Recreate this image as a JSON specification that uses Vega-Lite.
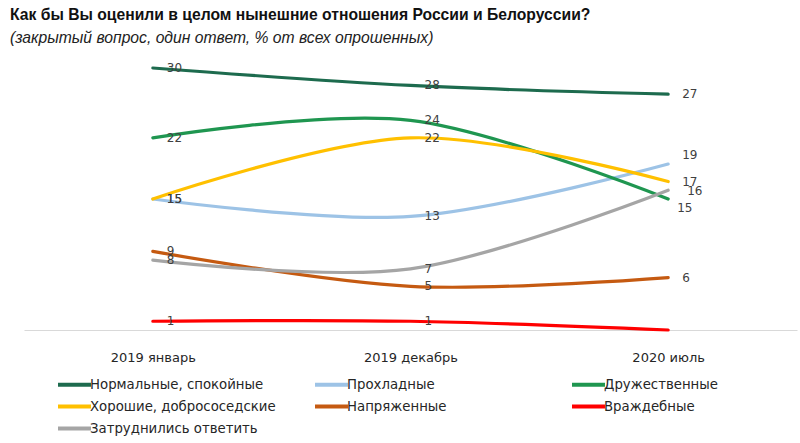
{
  "$schema": "https://vega.github.io/schema/vega-lite/v6.json",
  "autosize": {"type": "none"},
  "width": 773,
  "height": 262,
  "padding": {"left": 24, "top": 68, "right": 3, "bottom": 113},
  "background": "white",
  "title": {
    "text": "Как бы Вы оценили в целом нынешние отношения России и Белоруссии?",
    "subtitle": "(закрытый вопрос, один ответ, % от всех опрошенных)",
    "anchor": "start",
    "frame": "group",
    "dx": -14,
    "offset": 15,
    "font": "Liberation Sans",
    "fontSize": 15.7,
    "fontWeight": "bold",
    "color": "#111111",
    "subtitleFont": "Liberation Sans",
    "subtitleFontSize": 15.7,
    "subtitleFontStyle": "italic",
    "subtitleColor": "#222222",
    "subtitlePadding": 7
  },
  "data": {
    "values": [
      {"period": "2019 январь", "category": "Нормальные, спокойные", "value": 30},
      {"period": "2019 декабрь", "category": "Нормальные, спокойные", "value": 28},
      {"period": "2020 июль", "category": "Нормальные, спокойные", "value": 27},
      {"period": "2019 январь", "category": "Прохладные", "value": 15},
      {"period": "2019 декабрь", "category": "Прохладные", "value": 13},
      {"period": "2020 июль", "category": "Прохладные", "value": 19},
      {"period": "2019 январь", "category": "Дружественные", "value": 22},
      {"period": "2019 декабрь", "category": "Дружественные", "value": 24},
      {"period": "2020 июль", "category": "Дружественные", "value": 15},
      {"period": "2019 январь", "category": "Хорошие, добрососедские", "value": 15},
      {"period": "2019 декабрь", "category": "Хорошие, добрососедские", "value": 22},
      {"period": "2020 июль", "category": "Хорошие, добрососедские", "value": 17},
      {"period": "2019 январь", "category": "Напряженные", "value": 9},
      {"period": "2019 декабрь", "category": "Напряженные", "value": 5},
      {"period": "2020 июль", "category": "Напряженные", "value": 6},
      {"period": "2019 январь", "category": "Враждебные", "value": 1},
      {"period": "2019 декабрь", "category": "Враждебные", "value": 1},
      {"period": "2020 июль", "category": "Враждебные", "value": 0},
      {"period": "2019 январь", "category": "Затруднились ответить", "value": 8},
      {"period": "2019 декабрь", "category": "Затруднились ответить", "value": 7},
      {"period": "2020 июль", "category": "Затруднились ответить", "value": 16}
    ]
  },
  "encoding": {
    "x": {
      "field": "period",
      "type": "ordinal",
      "sort": ["2019 январь", "2019 декабрь", "2020 июль"],
      "scale": {"type": "point", "padding": 0.5},
      "axis": {
        "title": null,
        "labelAngle": 0,
        "labelFont": "DejaVu Sans",
        "labelFontSize": 13,
        "labelColor": "#262626",
        "labelPadding": 21,
        "ticks": false,
        "domainColor": "#d9d9d9",
        "domainWidth": 1
      }
    },
    "y": {
      "field": "value",
      "type": "quantitative",
      "scale": {"domain": [0, 30], "nice": false, "zero": true},
      "axis": null
    }
  },
  "layer": [
    {
      "mark": {"type": "line", "interpolate": "cardinal", "tension": 0, "strokeWidth": 3.2, "strokeCap": "round"},
      "encoding": {
        "color": {
          "field": "category",
          "type": "nominal",
          "scale": {
            "domain": ["Нормальные, спокойные", "Прохладные", "Дружественные", "Хорошие, добрососедские", "Напряженные", "Враждебные", "Затруднились ответить"],
            "range": ["#1d6b4e", "#9dc3e6", "#1f9650", "#ffc000", "#c55a11", "#ff0000", "#a5a5a5"]
          },
          "legend": {
            "title": null,
            "orient": "none",
            "legendX": 40,
            "legendY": 306,
            "direction": "horizontal",
            "columns": 3,
            "gridAlign": "all",
            "columnPadding": 31,
            "rowPadding": 3,
            "symbolType": "M-2,0H2",
            "symbolSize": 272,
            "symbolStrokeWidth": 4,
            "labelOffset": 5,
            "labelFont": "DejaVu Sans",
            "labelFontSize": 13.3,
            "labelColor": "#262626",
            "labelLimit": 300
          }
        }
      }
    },
    {
      "transform": [
        {"filter": "!(datum.period == '2020 июль' && (datum.category == 'Враждебные' || datum.category == 'Прохладные' || datum.category == 'Дружественные' || datum.category == 'Затруднились ответить'))"}
      ],
      "mark": {"type": "text", "align": "left", "baseline": "middle", "dx": 14, "font": "DejaVu Sans", "fontSize": 12, "color": "#404040"},
      "encoding": {"text": {"field": "value", "type": "quantitative"}}
    },
    {
      "transform": [{"filter": "datum.period == '2020 июль' && datum.category == 'Прохладные'"}],
      "mark": {"type": "text", "align": "left", "baseline": "middle", "dx": 14, "dy": -9, "font": "DejaVu Sans", "fontSize": 12, "color": "#404040"},
      "encoding": {"text": {"field": "value", "type": "quantitative"}}
    },
    {
      "transform": [{"filter": "datum.period == '2020 июль' && datum.category == 'Дружественные'"}],
      "mark": {"type": "text", "align": "left", "baseline": "middle", "dx": 9, "dy": 9, "font": "DejaVu Sans", "fontSize": 12, "color": "#404040"},
      "encoding": {"text": {"field": "value", "type": "quantitative"}}
    },
    {
      "transform": [{"filter": "datum.period == '2020 июль' && datum.category == 'Затруднились ответить'"}],
      "mark": {"type": "text", "align": "left", "baseline": "middle", "dx": 19, "dy": 1, "font": "DejaVu Sans", "fontSize": 12, "color": "#404040"},
      "encoding": {"text": {"field": "value", "type": "quantitative"}}
    }
  ],
  "config": {"view": {"stroke": null}}
}
